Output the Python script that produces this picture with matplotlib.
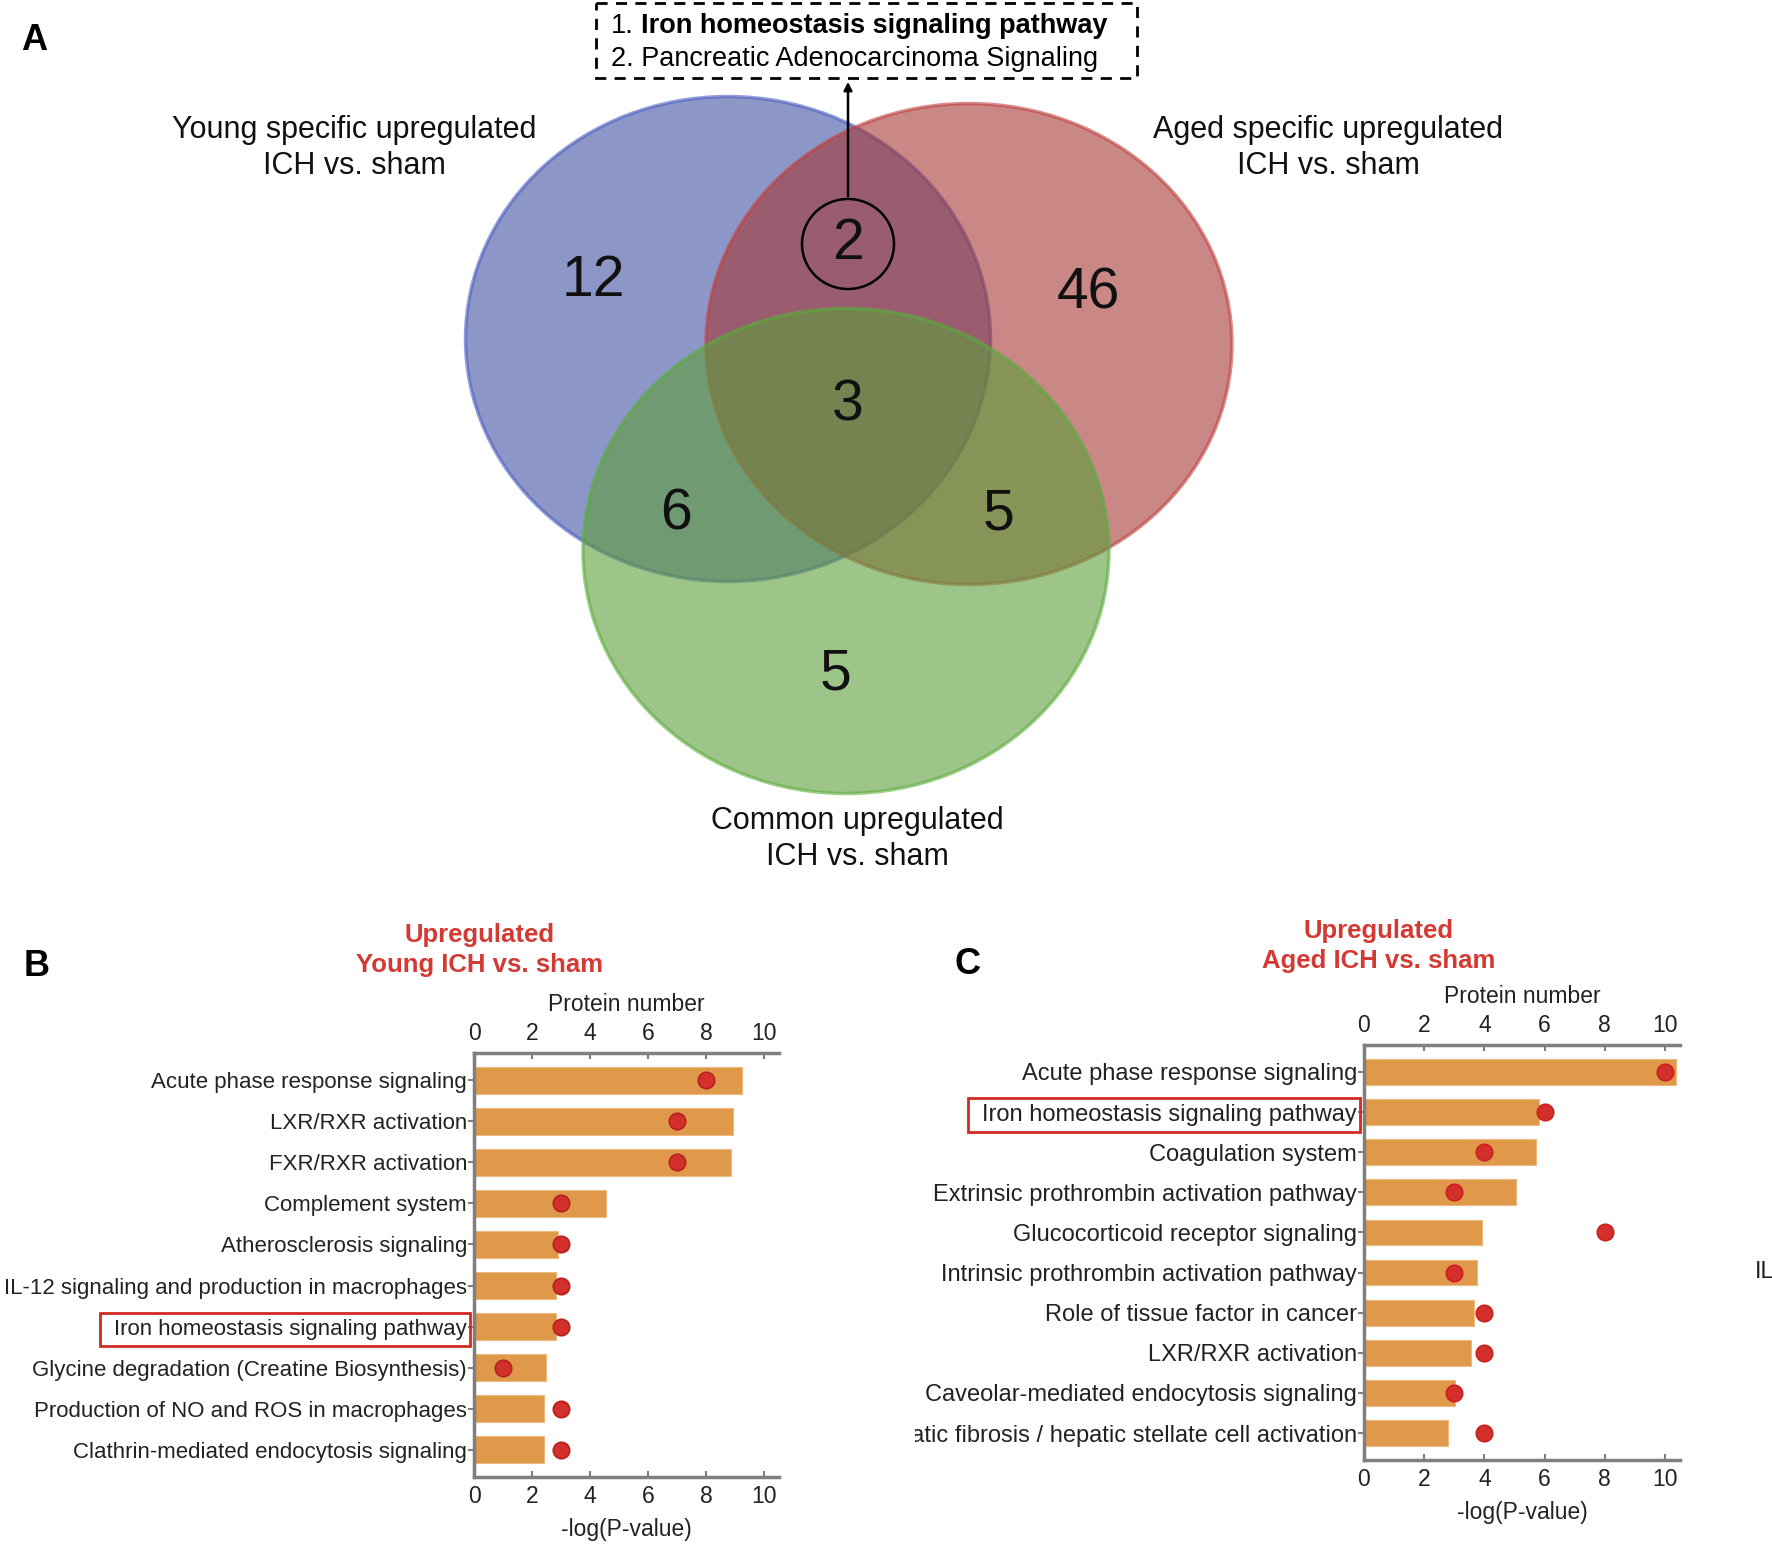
import matplotlib
matplotlib.use("Agg")
import matplotlib.pyplot as plt
from matplotlib.patches import Ellipse, Rectangle
from matplotlib.transforms import Bbox

plt.rcParams['font.family'] = ['Liberation Sans', 'DejaVu Sans']

W, H = 1772, 1549

# panel A: venn of upregulated pathways
venn_sets = ["Young specific upregulated\nICH vs. sham",
             "Aged specific upregulated\nICH vs. sham",
             "Common upregulated\nICH vs. sham"]
venn_regions = ["young", "aged", "young_aged", "all", "young_common", "aged_common", "common"]
venn_counts = [12, 46, 2, 3, 6, 5, 5]
shared_pathways = ["Iron homeostasis signaling pathway", "Pancreatic Adenocarcinoma Signaling"]

# panel B: young ICH vs sham
young_pathways = ["Acute phase response signaling", "LXR/RXR activation", "FXR/RXR activation",
                  "Complement system", "Atherosclerosis signaling",
                  "IL-12 signaling and production in macrophages",
                  "Iron homeostasis signaling pathway",
                  "Glycine degradation (Creatine Biosynthesis)",
                  "Production of NO and ROS in macrophages",
                  "Clathrin-mediated endocytosis signaling"]
young_logp = [9.24, 8.93, 8.86, 4.53, 2.90, 2.84, 2.81, 2.47, 2.40, 2.40]
young_proteins = [8, 7, 7, 3, 3, 3, 3, 1, 3, 3]

# panel C: aged ICH vs sham
aged_pathways = ["Acute phase response signaling", "Iron homeostasis signaling pathway",
                 "Coagulation system", "Extrinsic prothrombin activation pathway",
                 "Glucocorticoid receptor signaling", "Intrinsic prothrombin activation pathway",
                 "Role of tissue factor in cancer", "LXR/RXR activation",
                 "Caveolar-mediated endocytosis signaling",
                 "Hepatic fibrosis / hepatic stellate cell activation"]
aged_logp = [10.36, 5.81, 5.70, 5.04, 3.92, 3.75, 3.64, 3.54, 3.01, 2.80]
aged_proteins = [10, 6, 4, 3, 8, 3, 4, 4, 3, 4]

fig = plt.figure(figsize=(W / 100, H / 100), dpi=100)
bg = fig.add_axes([0, 0, 1, 1])
bg.set_xlim(0, W)
bg.set_ylim(H, 0)
bg.axis('off')

# ellipses (layout in pixels)
ellipses = [((728, 339), 525, 485, '#3f50a3', '#4a5cc0'),
            ((969, 344), 526, 481, '#a53735', '#c0403e'),
            ((846, 551), 526, 485, '#5c9d3a', '#5aae3a')]
for (c, w, h, fc, ec) in ellipses:
    bg.add_patch(Ellipse(c, w, h, facecolor=fc, alpha=0.6, edgecolor=ec, lw=2.5))

label_pos = [(354, 148), (1328, 148), (857, 839)]
for txt, (x, y) in zip(venn_sets, label_pos):
    bg.text(x, y, txt, ha='center', va='center', fontsize=22, color='#111111', linespacing=1.3)

count_pos = {"young": (593, 281), "aged": (1088, 293), "young_aged": (848, 244), "all": (848, 405),
             "young_common": (676, 514), "aged_common": (999, 514), "common": (836, 674)}
for reg, n in zip(venn_regions, venn_counts):
    x, y = count_pos[reg]
    bg.text(x, y, str(n), ha='center', va='center', fontsize=41, color='#111111')

# highlight of shared region
bg.add_patch(Ellipse((848, 244), 92, 90, fill=False, edgecolor='black', lw=1.8))
bg.annotate("", xy=(848, 79), xytext=(848, 199),
            arrowprops=dict(arrowstyle='-|>', color='black', lw=1.8, mutation_scale=12))
bg.add_patch(Rectangle((596, 3), 541, 75, fill=False, edgecolor='black', lw=2,
                       linestyle=(0, (4, 3))))
t1 = bg.text(611, 26, "1.", ha='left', va='center', fontsize=19.5)
bg.annotate(shared_pathways[0], xy=(1, 0.5), xycoords=t1, xytext=(7, 0),
            textcoords='offset pixels', ha='left', va='center', fontsize=19.5, fontweight='bold')
bg.text(611, 59, "2. " + shared_pathways[1], ha='left', va='center', fontsize=19.5)

# panel letters and titles
bg.text(34, 40, "A", ha='center', va='center', fontsize=26, fontweight='bold')
bg.text(37, 966, "B", ha='center', va='center', fontsize=26, fontweight='bold')
bg.text(968, 964, "C", ha='center', va='center', fontsize=26, fontweight='bold')
bg.text(480, 950, "Upregulated\nYoung ICH vs. sham", ha='center', va='center', fontsize=18.5,
        fontweight='bold', color='#d23a33', linespacing=1.35)
bg.text(1379, 946, "Upregulated\nAged ICH vs. sham", ha='center', va='center', fontsize=18.5,
        fontweight='bold', color='#d23a33', linespacing=1.35)
bg.text(1755, 1272, "IL", ha='left', va='center', fontsize=17, color='#222222')

GRAY = '#7f7f7f'


def bar_panel(left, top, right, bottom, names, logp, proteins, dot_edge, fs):
    ax = fig.add_axes([left / W, 1 - bottom / H, (right - left) / W, (bottom - top) / H])
    ax.patch.set_alpha(0)
    y = list(range(len(names)))
    ax.barh(y, logp, height=0.64, color='#e0994b', edgecolor='#ecb97f', lw=0.8)
    ax.set_xlim(0, 10.5)
    ax.set_ylim(len(names) - 1 + 0.67, -0.67)
    ax.set_yticks(y)
    ax.set_yticklabels(names, fontsize=fs, color='#222222')
    ax.set_xticks(range(0, 11, 2))
    ax.tick_params(axis='x', labelsize=16.5, colors=GRAY, labelcolor='#222222', length=4,
                   width=1.5, direction='in', pad=6)
    ax.tick_params(axis='y', colors=GRAY, labelcolor='#222222', length=4, width=1.5, pad=1)
    ax.set_xlabel("-log(P-value)", fontsize=16.5, color='#222222', labelpad=7)
    for s in ['right', 'top']:
        ax.spines[s].set_visible(False)
    for s in ['left', 'bottom']:
        ax.spines[s].set_color(GRAY)
        ax.spines[s].set_linewidth(2.5)

    top_ax = ax.twiny()
    top_ax.scatter(proteins, y, s=140, color='#d3302b', edgecolor=dot_edge, lw=1.2, zorder=3)
    top_ax.set_xlim(0, 10.5)
    top_ax.set_xticks(range(0, 11, 2))
    top_ax.tick_params(axis='x', labelsize=16.5, colors=GRAY, labelcolor='#222222', length=4,
                       width=1.5, direction='in', pad=6)
    top_ax.set_xlabel("Protein number", fontsize=16.5, color='#222222', labelpad=8)
    for s in ['right', 'left', 'bottom']:
        top_ax.spines[s].set_visible(False)
    top_ax.spines['top'].set_color(GRAY)
    top_ax.spines['top'].set_linewidth(2.5)
    return ax


ax_b = bar_panel(474, 1053, 779, 1477, young_pathways, young_logp, young_proteins, '#b5221e', 16)
ax_c = bar_panel(1364, 1045, 1680, 1460, aged_pathways, aged_logp, aged_proteins, '#cc2020', 17)

# crop of the last label in panel C (as in the source figure)
last = ax_c.yaxis.get_major_ticks()[-1].label1
last.set_clip_on(True)
last.set_clip_box(Bbox.from_extents(915, 0, W, H))

# red boxes around the iron homeostasis labels
fig.canvas.draw()
renderer = fig.canvas.get_renderer()
for ax in [ax_b, ax_c]:
    for lab in ax.get_yticklabels():
        if lab.get_text() == shared_pathways[0]:
            bb = lab.get_window_extent(renderer)
            box = Bbox.from_extents(bb.x0 - 14, bb.y0 - 6, bb.x1 + 3, bb.y1 + 6)
            fb = box.transformed(fig.transFigure.inverted())
            fig.add_artist(Rectangle((fb.x0, fb.y0), fb.width, fb.height, transform=fig.transFigure,
                                     fill=False, edgecolor='#d42a22', lw=2))

fig.savefig("out.png", dpi=100)
